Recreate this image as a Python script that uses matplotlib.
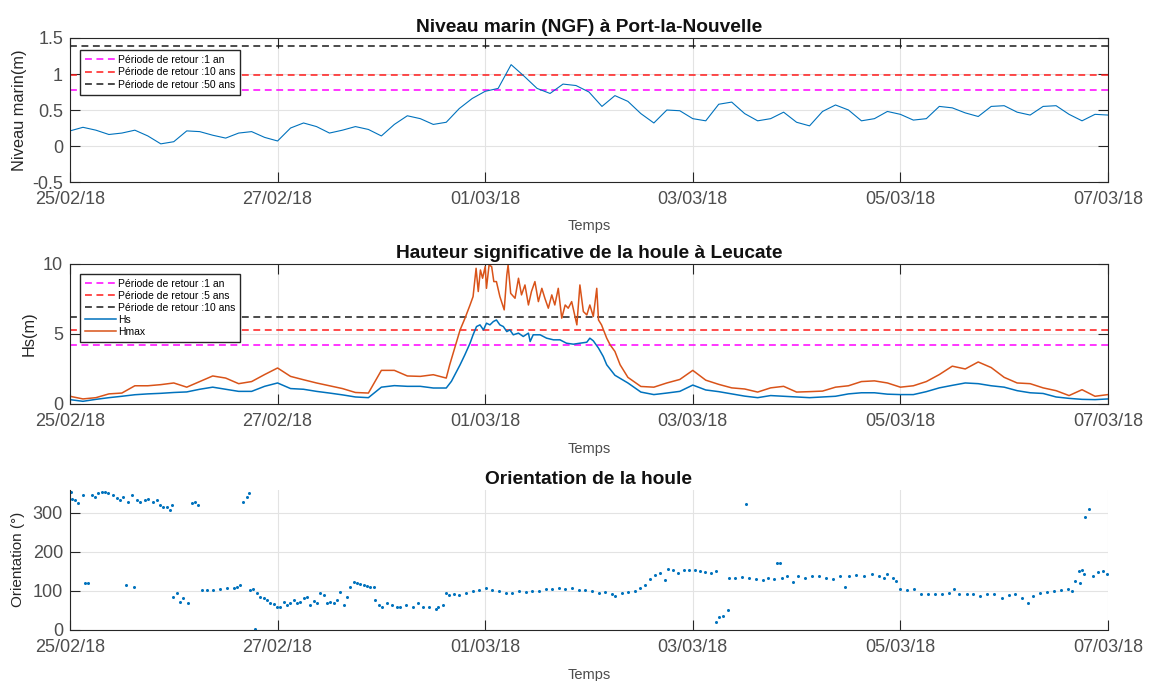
import numpy as np
import matplotlib
matplotlib.use("Agg")
import matplotlib.pyplot as plt
import matplotlib.dates as mdates
from matplotlib.ticker import FuncFormatter

plt.rcParams['font.family'] = ['Liberation Sans', 'DejaVu Sans']
plt.rcParams['axes.unicode_minus'] = False

t0 = np.datetime64('2018-02-25T00:00')
date_ticks = ['2018-02-25', '2018-02-27', '2018-03-01', '2018-03-03', '2018-03-05', '2018-03-07']

# niveau marin (m NGF), un point toutes les 3 h
niveau_h = np.arange(0, 241, 3)
niveau = [0.21, 0.26, 0.22, 0.16, 0.18, 0.22, 0.14, 0.03, 0.06, 0.21,
          0.20, 0.15, 0.11, 0.18, 0.20, 0.12, 0.07, 0.25, 0.32, 0.27,
          0.18, 0.22, 0.27, 0.23, 0.14, 0.30, 0.42, 0.38, 0.30, 0.33,
          0.52, 0.66, 0.76, 0.80, 1.13, 0.97, 0.80, 0.73, 0.86, 0.84,
          0.75, 0.55, 0.70, 0.62, 0.45, 0.32, 0.50, 0.49, 0.38, 0.35,
          0.58, 0.61, 0.45, 0.35, 0.38, 0.47, 0.33, 0.28, 0.48, 0.57,
          0.50, 0.35, 0.38, 0.48, 0.44, 0.36, 0.38, 0.55, 0.53, 0.46,
          0.41, 0.55, 0.56, 0.47, 0.43, 0.55, 0.56, 0.44, 0.35, 0.44, 0.43]
niveau_retour = [0.78, 0.98, 1.39]
niveau_labels = ['Période de retour :1 an', 'Période de retour :10 ans', 'Période de retour :50 ans']

# Hs (m)
hs_storm_h = [88.2, 90.2, 91.3, 92.5, 93.2, 94.0, 94.8, 95.6, 96.3, 97.1, 97.9, 98.6,
              99.4, 100.2, 101.0, 101.7, 102.5, 103.7, 104.8, 106.0, 106.4, 107.1,
              108.7, 110.2, 111.8, 113.3, 114.8, 116.4, 117.9, 119.5, 120.2, 121.0,
              122.2, 123.3, 124.1]
hs_storm = [1.62, 2.80, 3.51, 4.34, 4.94, 5.53, 5.65, 5.29, 5.77, 5.65, 5.89, 6.00,
            5.65, 5.53, 5.17, 5.29, 4.94, 5.06, 4.82, 5.06, 4.46, 4.94,
            4.94, 4.70, 4.58, 4.58, 4.34, 4.27, 4.34, 4.41, 4.70, 4.51,
            3.99, 3.39, 2.80]
hs_before = [0.31, 0.19, 0.33, 0.45, 0.55, 0.66, 0.72, 0.76, 0.82, 0.86,
             1.05, 1.20, 1.05, 0.90, 0.90, 1.26, 1.50, 1.10, 1.05, 0.90,
             0.78, 0.65, 0.50, 0.45, 1.20, 1.31, 1.26, 1.26, 1.14, 1.14]
hs_after = [2.05, 1.50, 0.85, 0.67, 0.78, 0.90, 1.35, 1.00, 0.88, 0.72, 0.56, 0.45,
            0.60, 0.55, 0.50, 0.45, 0.50, 0.55, 0.72, 0.80, 0.80, 0.70,
            0.67, 0.67, 0.88, 1.15, 1.33, 1.50, 1.45, 1.30, 1.20, 0.95,
            0.80, 0.75, 0.50, 0.40, 0.33, 0.31, 0.36]

# Hmax (m)
hmax_storm_h = [87.8, 89.4, 90.2, 91.3, 92.5, 93.2, 93.9, 94.4, 94.9, 95.4, 96.0, 96.3,
                96.9, 97.5, 98.0, 98.6, 99.4, 100.4, 101.0, 101.3, 101.9, 102.9,
                103.7, 104.4, 105.2, 106.0, 106.7, 107.5, 108.3, 109.1, 109.8, 110.6,
                111.4, 112.1, 112.9, 113.7, 114.5, 115.2, 116.0, 117.2, 117.9, 118.7,
                119.5, 120.2, 121.0, 121.8, 122.2, 122.9, 124.1, 124.9, 126.0, 127.2]
hmax_storm = [2.80, 4.46, 5.29, 6.10, 7.07, 7.67, 9.69, 8.03, 9.57, 8.98, 9.81, 8.26,
              9.93, 9.81, 8.74, 8.74, 7.67, 6.72, 9.20, 9.93, 7.90, 7.55,
              8.98, 7.79, 8.50, 7.07, 8.03, 8.74, 7.31, 8.26, 7.55, 6.84,
              7.79, 7.07, 8.26, 6.13, 7.07, 6.84, 7.31, 5.65, 8.50, 6.60,
              6.36, 7.07, 6.25, 8.26, 6.00, 5.65, 4.70, 4.22, 3.75, 2.80]
hmax_before = [0.55, 0.36, 0.45, 0.72, 0.78, 1.30, 1.30, 1.38, 1.50, 1.20,
               1.60, 2.00, 1.85, 1.45, 1.60, 2.10, 2.57, 1.97, 1.73, 1.50,
               1.30, 1.10, 0.82, 0.78, 2.40, 2.40, 2.00, 1.97, 2.09, 1.85]
hmax_after = [1.90, 1.25, 1.20, 1.50, 1.75, 2.40, 1.70, 1.40, 1.15, 1.07, 0.85,
              1.15, 1.26, 0.85, 0.88, 0.92, 1.20, 1.30, 1.60, 1.65, 1.50,
              1.20, 1.30, 1.60, 2.10, 2.70, 2.50, 3.00, 2.60, 1.90, 1.50,
              1.45, 1.15, 0.95, 0.60, 1.02, 0.55, 0.67]
hs_retour = [4.2, 5.3, 6.2]
hs_labels = ['Période de retour :1 an', 'Période de retour :5 ans', 'Période de retour :10 ans']

# orientation (deg)
dir_h = [0.15, 0.39, 1.16, 1.93, 2.93, 3.47, 4.24, 5.02, 5.79, 6.56, 7.33, 8.10, 8.87,
         10.03, 10.80, 11.58, 12.35, 12.96, 13.50, 14.28, 14.82, 15.43, 16.21, 17.36,
         18.14, 19.29, 20.06, 20.84, 21.61, 22.38, 23.15, 23.54, 23.92, 24.69, 25.47,
         26.24, 27.40, 28.17, 28.94, 29.71, 30.48, 31.64, 33.18, 34.73, 36.27, 37.81,
         38.59, 39.36, 39.97, 40.90, 41.28, 41.67, 42.44, 42.83, 43.21, 43.99, 44.76,
         45.53, 46.30, 47.07, 47.85, 48.62, 49.39, 50.16, 50.93, 51.70, 52.48, 53.25,
         54.02, 54.79, 55.56, 56.33, 57.11, 57.88, 58.65, 59.42, 60.19, 60.96, 61.74,
         62.51, 63.28, 64.05, 64.82, 65.59, 66.37, 67.14, 67.91, 68.68, 69.45, 70.22,
         70.61, 71.38, 72.15, 73.31, 74.47, 75.63, 76.40,
         77.75, 79.28, 80.43, 81.58, 83.12, 84.65, 85.03, 86.18, 86.95, 87.72, 88.87,
         90.02, 91.55, 93.09, 94.62, 96.15, 97.69, 99.22, 100.75, 102.29, 103.82,
         105.36, 106.89, 108.42, 109.96, 111.49, 113.02, 114.56, 116.09, 117.62,
         119.16, 120.69, 122.23, 123.76, 125.29, 126.06, 127.59, 129.13, 130.66,
         131.81, 132.96, 134.11, 135.26, 136.41, 137.56, 138.33, 139.48, 140.63,
         142.0, 143.2, 144.4, 145.6, 146.8, 148.1, 149.3, 149.3, 150.1, 150.9, 152.1,
         152.3, 153.7, 155.4, 156.2, 157.0, 158.6, 160.2, 161.4, 162.7, 163.5, 164.1,
         164.7, 165.9, 167.1, 168.3, 170.0, 171.6, 173.2, 174.8, 176.4, 178.1, 179.3,
         180.1, 181.7, 183.7, 185.4, 187.0, 188.2, 189.0, 190.2, 191.0, 191.8, 193.5,
         195.1, 196.7, 198.3, 200.0, 201.6, 203.2, 204.4, 205.6, 207.3, 208.9, 210.5,
         212.1, 213.7, 215.4, 217.0, 218.6, 220.2, 221.5, 222.7, 224.3, 225.9, 227.5,
         229.2, 230.8, 231.6, 232.4, 233.2, 233.6, 234.0, 234.4, 234.7, 235.5, 236.5,
         237.7, 238.9, 239.8]
dir_deg = [355, 335, 333, 326, 346, 120, 120, 346, 342, 350, 355, 353, 350,
           346, 338, 333, 342, 115, 329, 346, 111, 333, 329, 333,
           335, 329, 333, 320, 316, 316, 308, 320, 85, 94, 73,
           81, 68, 325, 329, 320, 103, 102, 103, 104, 107, 108,
           111, 115, 329, 342, 350, 103, 104, 2, 94, 85, 81,
           77, 68, 67, 60, 60, 73, 64, 68, 77, 68, 73,
           81, 85, 64, 75, 68, 94, 90, 68, 73, 68, 77,
           98, 64, 85, 111, 124, 120, 118, 115, 113, 111, 111,
           77, 64, 60, 68, 64, 60, 60,
           64, 60, 68, 60, 58, 53, 60, 64, 94, 90, 92,
           90, 94, 101, 103, 107, 103, 101, 96, 94, 101,
           98, 101, 101, 104, 104, 107, 104, 107, 103,
           103, 101, 96, 98, 92, 87, 96, 98, 101,
           107, 115, 132, 141, 145, 128, 156, 154, 145,
           153, 155, 153, 150, 148, 145, 150, 20, 33, 37, 50,
           134, 134, 137, 323, 134, 130, 128, 134, 130, 172, 173,
           134, 138, 123, 138, 134, 138, 139, 134, 130, 139, 111,
           139, 142, 139, 143, 138, 134, 143, 134, 125, 104, 102,
           104, 91, 93, 93, 93, 96, 104, 93, 93, 91, 87,
           91, 93, 83, 89, 91, 81, 70, 86, 96, 97, 100,
           102, 104, 100, 125, 151, 120, 155, 144, 290, 311, 139,
           148, 151, 144]


def to_time(hours):
    minutes = np.round(np.asarray(hours, dtype=float) * 60).astype(int)
    return t0 + minutes.astype('timedelta64[m]')


def style(ax, box=True):
    for side, s in ax.spines.items():
        s.set_color('#262626')
        s.set_linewidth(0.8)
    if not box:
        ax.spines['top'].set_visible(False)
        ax.spines['right'].set_visible(False)
    ax.tick_params(direction='in', length=7, width=0.8, color='#262626',
                   labelcolor='#4d4d4d', labelsize=13, top=box, right=box)
    ax.tick_params(axis='x', pad=6.5)
    ax.tick_params(axis='y', pad=5)
    ax.grid(True, color='#e3e3e3', linewidth=0.8)
    ax.set_axisbelow(True)
    ax.set_xlim(t0, t0 + np.timedelta64(240, 'h'))
    ax.set_xticks([np.datetime64(d) for d in date_ticks])
    ax.xaxis.set_major_formatter(mdates.DateFormatter('%d/%m/%y'))
    ax.yaxis.set_major_formatter(FuncFormatter(lambda v, p: '%g' % v))


def add_temps(ax, ypos):
    ax.set_xlabel('Temps', fontsize=10.5, color='#4d4d4d', va='center')
    ax.xaxis.set_label_coords(0.5, ypos)


retour_colors = ['#ff00ff', '#ff1a1a', '#1a1a1a']

fig = plt.figure(figsize=(11.49, 6.81), dpi=100)

# --- niveau marin
ax1 = fig.add_axes([0.0609, 0.7327, 0.9034, 0.2115])
for val, col, lab in zip(niveau_retour, retour_colors, niveau_labels):
    ax1.axhline(val, color=col, lw=1.1, ls='--', dashes=(4.5, 3), label=lab)
ax1.plot(to_time(niveau_h), niveau, color='#0072bd', lw=0.8)
style(ax1)
ax1.set_ylim(-0.5, 1.5)
ax1.set_yticks([-0.5, 0, 0.5, 1, 1.5])
ax1.set_title('Niveau marin (NGF) à Port-la-Nouvelle', fontsize=13.8,
              fontweight='bold', color='#111111', pad=4)
ax1.set_ylabel('Niveau marin(m)', fontsize=11.8, color='#262626', va='center')
ax1.yaxis.set_label_coords(-0.0491, 0.5)
add_temps(ax1, -0.306)
ax1.legend(loc='upper left', bbox_to_anchor=(0.0096, 0.9167), borderaxespad=0,
           fontsize=7.5, handlelength=3.0, handletextpad=0.2, labelspacing=0.25,
           borderpad=0.45, fancybox=False, edgecolor='#262626', framealpha=1)

# --- hauteur de houle
ax2 = fig.add_axes([0.0609, 0.4068, 0.9034, 0.2056])
for val, col, lab in zip(hs_retour, retour_colors, hs_labels):
    ax2.axhline(val, color=col, lw=1.1, ls='--', dashes=(4.5, 3), label=lab)
hs_t = np.concatenate([np.arange(0, 90, 3), hs_storm_h, np.arange(126, 241, 3)])
hs_all = hs_before + hs_storm + hs_after
hmax_t = np.concatenate([np.arange(0, 90, 3), hmax_storm_h, np.arange(129, 241, 3)])
hmax_all = hmax_before + hmax_storm + hmax_after
ax2.plot(to_time(hs_t), hs_all, color='#0072bd', lw=1.1, label='Hs')
ax2.plot(to_time(hmax_t), hmax_all, color='#d95319', lw=1.1, label='Hmax')
style(ax2)
ax2.set_ylim(0, 10)
ax2.set_yticks([0, 5, 10])
ax2.set_title('Hauteur significative de la houle à Leucate', fontsize=13.8,
              fontweight='bold', color='#111111', pad=4)
ax2.set_ylabel('Hs(m)', fontsize=11.8, color='#262626', va='center')
ax2.yaxis.set_label_coords(-0.0395, 0.5)
add_temps(ax2, -0.321)
ax2.legend(loc='upper left', bbox_to_anchor=(0.0096, 0.9286), borderaxespad=0,
           fontsize=7.5, handlelength=3.0, handletextpad=0.2, labelspacing=0.2,
           borderpad=0.45, fancybox=False, edgecolor='#262626', framealpha=1)

# --- orientation
ax3 = fig.add_axes([0.0609, 0.0749, 0.9034, 0.2062])
ax3.plot(to_time(dir_h), dir_deg, 'o', color='#0072bd', ms=2.2, mew=0)
style(ax3, box=False)
ax3.set_ylim(0, 360)
ax3.set_yticks([0, 100, 200, 300])
ax3.set_title('Orientation de la houle', fontsize=13.8,
              fontweight='bold', color='#111111', pad=4)
ax3.set_ylabel('Orientation (°)', fontsize=11, color='#262626', va='center')
ax3.yaxis.set_label_coords(-0.0501, 0.5)
add_temps(ax3, -0.32)

fig.savefig('out.png', dpi=100)
